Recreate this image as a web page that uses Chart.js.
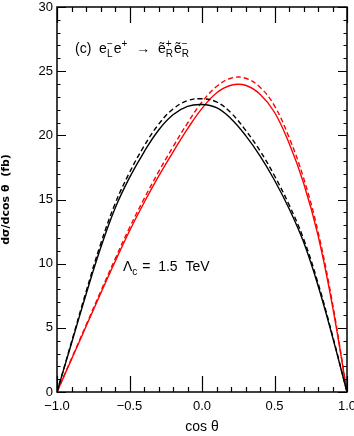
<!DOCTYPE html>
<html>
<head>
<meta charset="utf-8">
<script src="https://cdn.jsdelivr.net/npm/chart.js@4"></script>
<style>
  html, body { margin: 0; padding: 0; background: #fff; }
  #wrap { width: 354px; height: 436px; }
</style>
</head>
<body>
<div id="wrap"><canvas id="grafico"></canvas></div>
<script>
// valores
const cosTheta   = [-1.0, -0.9, -0.8, -0.7, -0.6, -0.5, -0.4, -0.3, -0.2, -0.1, 0.0, 0.1, 0.2, 0.3, 0.4, 0.5, 0.6, 0.7, 0.8, 0.9, 1.0];
const negroSolid = [0, 3.8, 7.6, 11.2, 14.3, 16.7, 18.7, 20.4, 21.6, 22.25, 22.4, 22.15, 21.3, 20.0, 18.4, 16.5, 14.3, 11.7, 8.3, 4.3, 0];
const negroDash  = [0, 3.9, 7.8, 11.5, 14.65, 17.1, 19.15, 20.85, 22.05, 22.7, 22.85, 22.6, 21.75, 20.4, 18.8, 16.85, 14.6, 11.95, 8.5, 4.4, 0];
const rojoSolid  = [0, 2.55, 5.1, 7.65, 10.15, 12.55, 14.75, 16.8, 18.7, 20.5, 22.1, 23.3, 23.9, 23.9, 23.2, 21.8, 19.4, 16.3, 12.2, 6.7, 0];
const rojoDash   = [0, 2.6, 5.2, 7.8, 10.35, 12.8, 15.05, 17.15, 19.1, 20.95, 22.6, 23.8, 24.45, 24.45, 23.75, 22.3, 19.85, 16.7, 12.5, 6.9, 0];
const xTicks = [-1.0, -0.5, 0.0, 0.5, 1.0];
const yTicks = [0, 5, 10, 15, 20, 25, 30];

const fuente = "'Liberation Sans Narrow', 'Liberation Sans', Arial, sans-serif";

function puntos(ys) {
    return cosTheta.map((c, i) => ({ x: c, y: ys[i] }));
}

// texto con subindices / superindices
function textoRico(ctx, partes, x, y, size) {
    let cx = x;
    partes.forEach(p => {
        if (p.n !== undefined) {
            ctx.font = size + 'px ' + fuente;
            ctx.fillText(p.n, cx, y);
            cx += ctx.measureText(p.n).width;
        } else {
            ctx.font = Math.round(size * 0.72) + 'px ' + fuente;
            let w = 0;
            if (p.sub) { ctx.fillText(p.sub, cx, y + size * 0.3); w = ctx.measureText(p.sub).width; }
            if (p.sup) { ctx.fillText(p.sup, cx, y - size * 0.45); w = Math.max(w, ctx.measureText(p.sup).width); }
            cx += w + 1;
        }
    });
}

const marcoYTicks = {
    id: 'marcoYTicks',
    afterDatasetsDraw(chart) {
        const ctx = chart.ctx;
        const a = chart.chartArea;
        const sx = chart.scales.x, sy = chart.scales.y;
        ctx.save();
        ctx.strokeStyle = '#000';
        ctx.lineWidth = 1.2;
        ctx.beginPath();
        for (let i = -10; i <= 10; i++) {
            const px = Math.round(sx.getPixelForValue(i / 10)) + 0.5;
            const len = (i % 5 === 0) ? 16 : 5;
            ctx.moveTo(px, a.bottom); ctx.lineTo(px, a.bottom - len);
            ctx.moveTo(px, a.top); ctx.lineTo(px, a.top + len);
        }
        for (let v = 0; v <= 30; v++) {
            const py = Math.round(sy.getPixelForValue(v)) + 0.5;
            const len = (v % 5 === 0) ? 9 : 3.5;
            ctx.moveTo(a.left, py); ctx.lineTo(a.left + len, py);
            ctx.moveTo(a.right, py); ctx.lineTo(a.right - len, py);
        }
        ctx.stroke();
        ctx.lineWidth = 1.5;
        ctx.strokeRect(a.left, a.top, a.right - a.left, a.bottom - a.top);

        ctx.fillStyle = '#000';
        ctx.textBaseline = 'alphabetic';
        ctx.textAlign = 'left';
        textoRico(ctx, [
            { n: '(c)  e' }, { sub: 'L', sup: '\u2212' }, { n: 'e' }, { sup: '+' },
            { n: '  \u2192  \u1EBD' }, { sub: 'R', sup: '+' }, { n: '\u1EBD' }, { sub: 'R', sup: '\u2212' }
        ], 75, 53, 14);
        textoRico(ctx, [{ n: '\u039B' }, { sub: 'c' }, { n: ' =  1.5  TeV' }], 123, 271, 14);
        ctx.restore();
    }
};

const ctx = document.getElementById('grafico').getContext('2d');
new Chart(ctx, {
    type: 'line',
    data: {
        datasets: [
            { data: puntos(negroSolid), borderColor: '#000', borderWidth: 1.4 },
            { data: puntos(negroDash), borderColor: '#000', borderWidth: 1.4, borderDash: [5, 3] },
            { data: puntos(rojoSolid), borderColor: '#ff0000', borderWidth: 1.4 },
            { data: puntos(rojoDash), borderColor: '#ff0000', borderWidth: 1.4, borderDash: [5, 3] }
        ]
    },
    options: {
        responsive: true,
        maintainAspectRatio: false,
        animation: false,
        layout: { padding: { top: 7, right: 7, left: 0, bottom: 0 } },
        elements: {
            point: { radius: 0 },
            line: { tension: 0.4, fill: false }
        },
        plugins: { legend: { display: false }, tooltip: { enabled: false } },
        scales: {
            x: {
                type: 'linear', min: -1, max: 1,
                afterFit: s => { s.height = 44; s.paddingLeft = 0; s.paddingRight = 0; },
                afterBuildTicks: s => { s.ticks = xTicks.map(v => ({ value: v })); },
                grid: { display: false, drawTicks: false },
                border: { display: false },
                ticks: {
                    color: '#000', padding: 7, maxRotation: 0,
                    font: { family: fuente, size: 13 },
                    callback: v => (v < 0 ? '\u2212' : '') + Math.abs(v).toFixed(1)
                },
                title: {
                    display: true, text: 'cos \u03B8', color: '#000',
                    font: { family: fuente, size: 14 }, padding: { top: 2, bottom: 0 }
                }
            },
            y: {
                min: 0, max: 30,
                afterFit: s => { s.width = 57; s.paddingTop = 0; s.paddingBottom = 0; },
                afterBuildTicks: s => { s.ticks = yTicks.map(v => ({ value: v })); },
                grid: { display: false, drawTicks: false },
                border: { display: false },
                ticks: {
                    color: '#000', padding: 4,
                    font: { family: fuente, size: 13 }
                },
                title: {
                    display: true, text: 'd\u03C3/dcos \u03B8  (fb)', color: '#000',
                    font: { family: "'DejaVu Sans', sans-serif", size: 11, weight: 'bold' },
                    padding: { top: 0, bottom: 4 }
                }
            }
        }
    },
    plugins: [marcoYTicks]
});
</script>
</body>
</html>
